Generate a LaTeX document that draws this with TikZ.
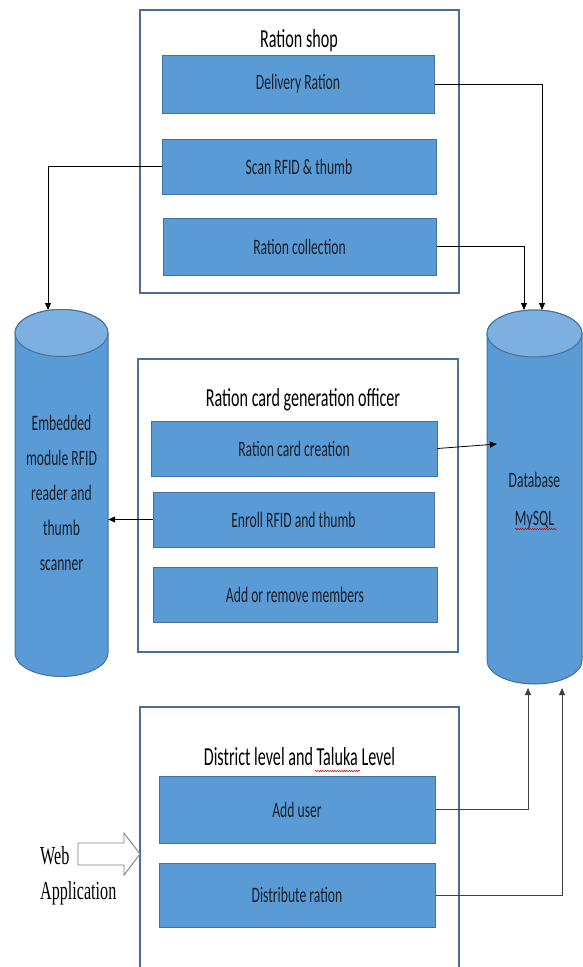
\documentclass[tikz,border=0pt]{standalone}
\usepackage{fontspec}
\newfontfamily\calibf[FakeStretch=0.62]{Carlito}
\newfontfamily\timesf[FakeStretch=0.62]{Liberation Serif}
\usetikzlibrary{arrows.meta,decorations.pathmorphing}
\definecolor{boxfill}{HTML}{5B9BD5}
\definecolor{boxdraw}{HTML}{41719C}
\definecolor{contdraw}{HTML}{4A6E96}
\definecolor{cyltop}{HTML}{7DB0E0}
\definecolor{txt}{HTML}{15202B}
\tikzset{
  box/.style={draw=boxdraw, fill=boxfill, line width=1pt, inner sep=0pt,
    font=\calibf\fontsize{22}{26}\selectfont, text=txt},
  cont/.style={draw=contdraw, line width=1.2pt, inner sep=0pt},
  title/.style={font=\calibf\fontsize{26}{30}\selectfont, text=black, inner sep=0pt},
  cyl/.style={draw=boxdraw, fill=boxfill, line width=1pt},
  cyltext/.style={font=\calibf\fontsize{22}{35}\selectfont, text=txt, align=center, inner sep=0pt},
  arr/.style={draw=black, line width=0.8pt, -{Triangle[length=7pt,width=6pt]}},
  arrg/.style={draw=black!75, line width=0.9pt, -{Triangle[length=7pt,width=6pt]}},
  squig/.style={draw=red!80!black, line width=0.5pt, decorate,
    decoration={snake, amplitude=0.7pt, segment length=2.4pt}}
}
\begin{document}
\begin{tikzpicture}[x=1pt,y=-1pt]
\useasboundingbox (0,0) rectangle (583,967);
% containers
\node[cont, minimum width=319pt, minimum height=283pt] (shop) at (299.5,151.5) {};
\node[cont, minimum width=320pt, minimum height=293pt] (officer) at (298,505.5) {};
\node[cont, minimum width=319pt, minimum height=270pt] (district) at (299.5,842) {};
% titles
\node[title] (tshop) at (299,41) {Ration shop};
\node[title] (toff) at (303,400) {Ration card generation officer};
\node[title] (tdist) at (299.5,757) {District level and Taluka Level};
\draw[squig] (315,771) -- (360,771);
% boxes
\node[box, minimum width=272pt, minimum height=58pt] (dr) at (298,84) {Delivery Ration};
\node[box, minimum width=274pt, minimum height=55pt] (scan) at (299,166.5) {Scan RFID \& thumb};
\node[box, minimum width=273pt, minimum height=57pt] (coll) at (299.5,246.5) {Ration collection};
\node[box, minimum width=286pt, minimum height=55pt] (rcc) at (294,448.5) {Ration card creation};
\node[box, minimum width=281pt, minimum height=55pt] (enr) at (293.5,519.5) {Enroll RFID and thumb};
\node[box, minimum width=284pt, minimum height=55pt] (addm) at (295,594.5) {Add or remove members};
\node[box, minimum width=276pt, minimum height=67pt] (au) at (297,809.5) {Add user};
\node[box, minimum width=276pt, minimum height=64pt] (dist) at (297,895) {Distribute ration};
% left cylinder
\draw[cyl] (15,333) -- (15,653) arc[start angle=180, end angle=0, x radius=46.5, y radius=23.5]
  -- (108,333) arc[start angle=0, end angle=-180, x radius=46.5, y radius=23.5] -- cycle;
\draw[cyl, fill=cyltop] (61.5,333) ellipse[x radius=46.5, y radius=23.5];
\node[cyltext, minimum width=93pt, minimum height=366pt] (emb) at (61.5,493)
  {Embedded\\module RFID\\reader and\\thumb\\scanner};
% right cylinder
\draw[cyl] (487,333.5) -- (487,660.5) arc[start angle=180, end angle=0, x radius=47.5, y radius=23.5]
  -- (582,333.5) arc[start angle=0, end angle=-180, x radius=47.5, y radius=23.5] -- cycle;
\draw[cyl, fill=cyltop] (534.5,333.5) ellipse[x radius=47.5, y radius=23.5];
\node[cyltext, font=\calibf\fontsize{22}{38}\selectfont, minimum width=95pt, minimum height=374pt] (db) at (534.5,501)
  {Database\\MySQL};
\draw[squig] (515,529) -- (557,529);
% web application
\node[font=\timesf\fontsize{26}{35}\selectfont, align=left, anchor=west, inner sep=0pt] (web) at (40,875.5)
  {Web\\Application};
\draw[draw=black!50, line width=0.9pt, fill=white] (78,843) -- (124,843) -- (124,833) -- (140,854)
  -- (124,875) -- (124,865) -- (78,865) -- cycle;
% connectors
\coordinate (dbtopA) at (542,310);
\coordinate (dbtopB) at (524,310);
\coordinate (embtop) at (48,310);
\coordinate (dbin) at (497,444);
\coordinate (dbbotA) at (528,688);
\coordinate (dbbotB) at (562,688);
\draw[arr] (dr.east) -| (dbtopA);
\draw[arr] (coll.east) -| (dbtopB);
\draw[arr] (scan.west) -| (embtop);
\draw[arr] (rcc.east) -- (dbin);
\draw[arr] (enr.west) -- (enr.west -| emb.east);
\draw[arrg] (au.east) -| (dbbotA);
\draw[arrg] (dist.east) -| (dbbotB);
\end{tikzpicture}
\end{document}
